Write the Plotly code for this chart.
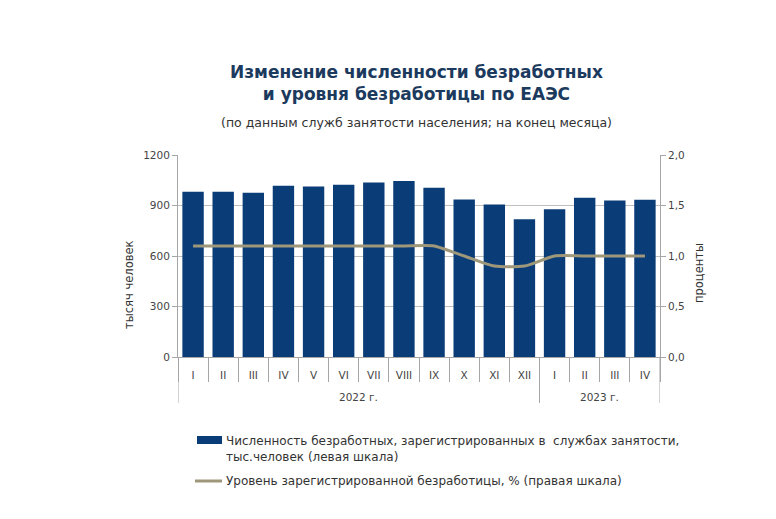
import plotly.graph_objects as go

months = ["I", "II", "III", "IV", "V", "VI", "VII", "VIII", "IX", "X", "XI", "XII", "I", "II", "III", "IV"]
year_labels = ["2022 г.", "2023 г."]
year_counts = [12, 4]
unemployed = [982, 982, 976, 1017, 1013, 1023, 1037, 1045, 1005, 936, 906, 819, 878, 946, 930, 934]
rate = [1.1, 1.1, 1.1, 1.1, 1.1, 1.1, 1.1, 1.1, 1.1, 1.0, 0.9, 0.9, 1.0, 1.0, 1.0, 1.0]
left_ticks = [0, 300, 600, 900, 1200]
right_ticks = [0.0, 0.5, 1.0, 1.5, 2.0]
bar_name = "Численность безработных, зарегистрированных в  службах занятости,<br>тыс.человек (левая шкала)"
line_name = "Уровень зарегистрированной безработицы, % (правая шкала)"

BLUE = "#0A3D78"
OLIVE = "#9E977A"
GRAY = "#444444"
AXIS = "#A6A6A6"
FONT = "DejaVu Sans"

# plot-area geometry in screen pixels (page has 8px body margin)
PL, PR, PT, PB = 178, 660, 155, 357
PW, PH = PR - PL, PB - PT


def px(x):
    return (x - PL) / PW


def py(y):
    return (PB - y) / PH


pos = list(range(len(months)))
boundaries = [i - 0.5 for i in range(len(months) + 1)]

fig = go.Figure()
fig.add_trace(go.Bar(
    x=pos, y=unemployed, name=bar_name, showlegend=False,
    marker=dict(color=BLUE, line=dict(width=0)),
))
fig.add_trace(go.Scatter(
    x=pos, y=rate, yaxis="y2", mode="lines", name=line_name,
    showlegend=False,
    line=dict(color=OLIVE, width=3, shape="spline", smoothing=0.6),
))

# year group dividers and labels
shapes = []
annotations = []
start = 0
edges = [-0.5]
for lab, cnt in zip(year_labels, year_counts):
    annotations.append(dict(
        text=lab, xref="x", yref="paper", x=start + (cnt - 1) / 2, y=py(397),
        xanchor="center", yanchor="middle", showarrow=False,
        font=dict(size=10.5, color=GRAY, family=FONT)))
    start += cnt
    edges.append(start - 0.5)
for e in edges:
    shapes.append(dict(type="line", xref="x", yref="paper", x0=e, x1=e,
                       y0=0, y1=py(403), line=dict(color=AXIS, width=1)))

# legend
shapes += [
    dict(type="rect", xref="paper", yref="paper",
         x0=px(197), x1=px(222), y0=py(444), y1=py(436),
         fillcolor=BLUE, line=dict(width=0)),
    dict(type="line", xref="paper", yref="paper",
         x0=px(195), x1=px(222), y0=py(481), y1=py(481),
         line=dict(color=OLIVE, width=3)),
]
annotations += [
    dict(text="<b>Изменение численности безработных<br>и уровня безработицы по ЕАЭС</b>",
         xref="paper", yref="paper", x=px(416), y=py(60),
         xanchor="center", yanchor="top", showarrow=False,
         font=dict(size=17, color="#1B3A5E", family=FONT)),
    dict(text="(по данным служб занятости населения; на конец месяца)",
         xref="paper", yref="paper", x=px(416), y=py(122),
         xanchor="center", yanchor="middle", showarrow=False,
         font=dict(size=12.5, color="#333333", family=FONT)),
    dict(text="тысяч человек", xref="paper", yref="paper",
         x=px(120), y=py(285), textangle=-90, showarrow=False,
         font=dict(size=11.5, color="#333333", family=FONT)),
    dict(text="проценты", xref="paper", yref="paper",
         x=px(708), y=py(273), textangle=-90, showarrow=False,
         font=dict(size=11.5, color="#333333", family=FONT)),
    dict(text=bar_name, xref="paper", yref="paper",
         x=px(224), y=py(449), xanchor="left", yanchor="middle",
         align="left", showarrow=False,
         font=dict(size=12, color="#333333", family=FONT)),
    dict(text=line_name, xref="paper", yref="paper",
         x=px(224), y=py(481), xanchor="left", yanchor="middle",
         align="left", showarrow=False,
         font=dict(size=12, color="#333333", family=FONT)),
]

fig.update_layout(
    width=776, height=519,
    margin=dict(l=PL - 8, r=776 + 8 - PR, t=PT - 8, b=519 + 8 - PB),
    paper_bgcolor="white", plot_bgcolor="white",
    separators=", ",
    font=dict(family=FONT, size=10.5, color=GRAY),
    bargap=0.29,
    xaxis=dict(range=[-0.5, len(months) - 0.5], tickvals=pos, ticktext=months,
               showline=True, linecolor=AXIS, showgrid=False, zeroline=False,
               ticks="outside", ticklen=8, tickcolor="rgba(0,0,0,0)",
               tickfont=dict(size=10.5, color=GRAY),
               minor=dict(tickvals=boundaries, ticks="outside", ticklen=24,
                          tickcolor=AXIS, showgrid=False)),
    yaxis=dict(range=[0, 1200], tickvals=left_ticks, showgrid=True,
               gridcolor="#BFBFBF", showline=True, linecolor=AXIS,
               ticks="outside", ticklen=5, tickcolor=AXIS, zeroline=False,
               tickfont=dict(size=10.5, color=GRAY)),
    yaxis2=dict(range=[0, 2], tickvals=right_ticks, tickformat=".1f",
                overlaying="y", side="right", showgrid=False,
                showline=True, linecolor=AXIS, ticks="outside",
                ticklen=5, tickcolor=AXIS, zeroline=False,
                tickfont=dict(size=10.5, color=GRAY)),
    shapes=shapes,
    annotations=annotations,
)

fig.write_html("out.html")
